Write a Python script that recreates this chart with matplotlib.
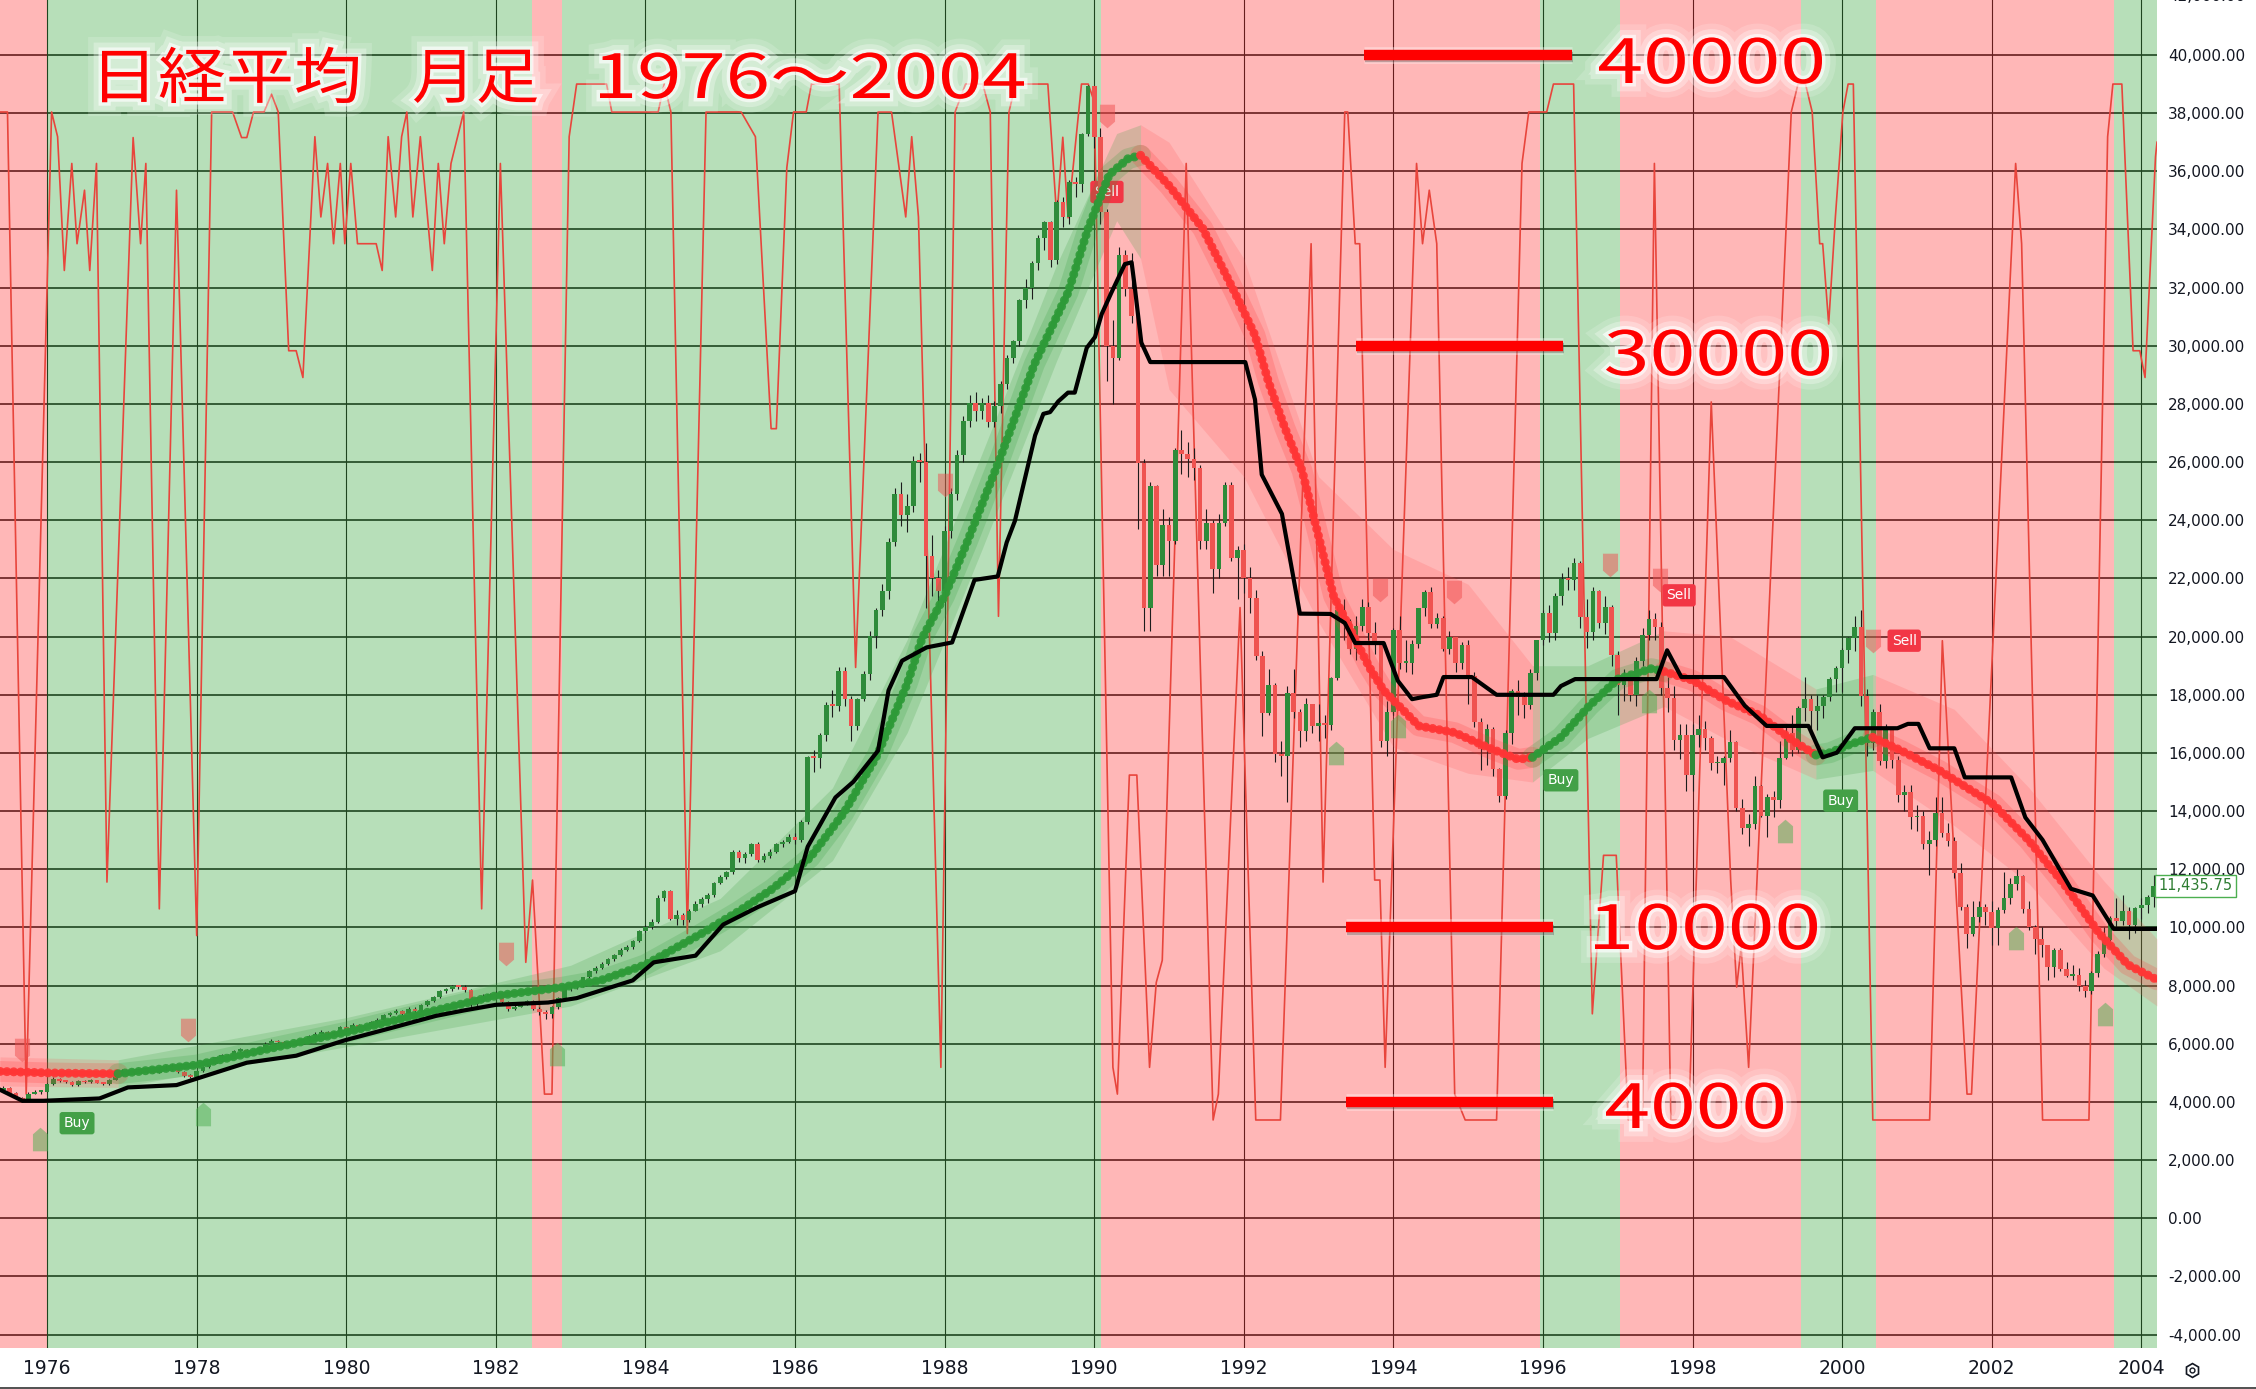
import matplotlib
matplotlib.use("Agg")
import matplotlib.pyplot as plt
import matplotlib.patheffects as pe
from matplotlib.path import Path
from matplotlib.lines import Line2D
from matplotlib.patches import PathPatch
from matplotlib.textpath import TextPath
from matplotlib.font_manager import FontProperties
from matplotlib.transforms import blended_transform_factory, Affine2D, IdentityTransform

# ---------------- data ----------------
first_bar = (1975, 5)          # first monthly bar: May 1975
first_open = 4380
closes = [
    4420, 4470, 4300, 4140, 4080, 4290, 4340, 4358,  # 1975 May-Dec
    4620, 4780, 4720, 4700, 4580, 4730, 4670, 4740, 4660, 4620, 4750, 4990,
    5080, 5000, 5060, 5030, 5080, 5010, 5120, 5180, 5140, 5040, 4890, 4866,
    5050, 5200, 5320, 5530, 5620, 5560, 5750, 5800, 5720, 5680, 5870, 6001,
    6100, 6050, 5950, 5980, 6000, 6120, 6270, 6350, 6420, 6330, 6420, 6569,
    6480, 6650, 6530, 6610, 6750, 6830, 6990, 7050, 7130, 7040, 7200, 7116,
    7340, 7480, 7600, 7810, 7870, 7970, 7950, 7850, 7360, 7520, 7650, 7681,
    7670, 7440, 7180, 7280, 7400, 7470, 7200, 7110, 7010, 7250, 7570, 8016,
    7950, 7980, 8280, 8500, 8620, 8760, 8900, 9060, 9240, 9330, 9530, 9893,
    10030, 10180, 11030, 11240, 10300, 10420, 10250, 10580, 10800, 10970, 11100, 11542,
    11720, 11900, 12600, 12380, 12520, 12880, 12320, 12450, 12590, 12880, 12950, 13113,
    13020, 13640, 15860, 15830, 16610, 17650, 17620, 18820, 17850, 16910, 17850, 18701,
    20020, 20900, 21570, 23270, 24900, 24180, 24490, 26030, 26010, 22770, 22030, 21564,
    23620, 24920, 26260, 27420, 28050, 27770, 28040, 27380, 27920, 28670, 29580, 30159,
    31580, 31990, 32840, 33710, 34270, 32950, 34950, 34430, 35640, 35550, 37270, 38916,
    37190, 34590, 29980, 29590, 33130, 31940, 31040, 25980, 20980, 25190, 22450, 23849,
    23290, 26410, 26290, 26110, 25790, 23290, 23900, 22340, 23920, 25220, 22690, 22984,
    22020, 21340, 19350, 17390, 18350, 15950, 15910, 18060, 17400, 16770, 17680, 16925,
    17020, 16950, 18590, 20920, 20550, 19590, 20380, 21030, 20110, 19700, 16410, 17417,
    20230, 19110, 19110, 19730, 20970, 21550, 20450, 20630, 19560, 19990, 19080, 19723,
    18650, 17050, 16140, 16810, 15440, 14520, 16680, 18120, 17910, 17650, 18740, 19868,
    20810, 20130, 21410, 21990, 21960, 22530, 20690, 20170, 21560, 20470, 21020, 19361,
    18330, 18560, 18000, 19150, 20070, 20600, 20330, 18230, 17890, 16460, 16630, 15259,
    16630, 16830, 16530, 15640, 15670, 15830, 16380, 14110, 13410, 13560, 14880, 13842,
    14500, 14370, 15840, 16700, 16110, 17530, 17860, 17440, 17600, 17940, 18560, 18934,
    19540, 19960, 20340, 17970, 16330, 17410, 15730, 16860, 15750, 14540, 14650, 13786,
    13840, 12880, 13000, 13930, 13260, 12970, 11860, 10710, 9770, 10370, 10700, 10543,
    9990, 10590, 11020, 11490, 11760, 10620, 10000, 9620, 9380, 8640, 9220, 8579,
    8340, 8360, 7970, 7830, 8420, 9080, 9560, 10340, 10220, 10560, 10100, 10677,
    10783, 11041, 11435.75,
]
highs = [
    4500, 4560, 4520, 4330, 4180, 4330, 4400, 4400,
    4650, 4850, 4830, 4760, 4720, 4760, 4760, 4780, 4760, 4690, 4780, 5010,
    5130, 5110, 5090, 5100, 5120, 5100, 5160, 5260, 5290, 5160, 5060, 4960,
    5080, 5230, 5350, 5560, 5660, 5650, 5790, 5860, 5830, 5760, 5900, 6050,
    6150, 6140, 6080, 6020, 6050, 6150, 6300, 6400, 6470, 6440, 6450, 6600,
    6620, 6700, 6680, 6650, 6790, 6870, 7020, 7100, 7190, 7150, 7250, 7250,
    7380, 7520, 7650, 7850, 7920, 8010, 8020, 8020, 7880, 7600, 7700, 7740,
    7800, 7700, 7460, 7350, 7450, 7520, 7490, 7260, 7150, 7300, 7600, 8050,
    8100, 8050, 8300, 8530, 8680, 8800, 8950, 9100, 9290, 9390, 9560, 9920,
    10100, 10300, 11100, 11300, 11280, 10600, 10500, 10650, 10900, 11050, 11200, 11580,
    11800, 11950, 12650, 12650, 12600, 12900, 12950, 12550, 12700, 12900, 13000, 13200,
    13250, 13700, 15900, 16100, 16700, 17750, 18150, 18950, 18950, 17950, 17900, 18820,
    20200, 21000, 21800, 23400, 25100, 25300, 24900, 26200, 26300, 26650, 23500, 22300,
    23800, 25100, 26400, 27600, 28300, 28400, 28200, 28300, 28100, 28800, 29700, 30200,
    31600, 32300, 32900, 33800, 34300, 34300, 35000, 35100, 35700, 35800, 37300, 38957,
    38950, 37500, 34700, 30900, 33400, 33300, 33200, 31100, 26100, 25300, 25200, 24400,
    24100, 26500, 27100, 26700, 26500, 25900, 24400, 24000, 24200, 25300, 25300, 23100,
    23200, 22400, 21600, 19500, 18900, 18400, 16400, 18300, 18900, 17500, 17900, 17700,
    17700, 17300, 18600, 21200, 21300, 20600, 20700, 21300, 21200, 20500, 19800, 17800,
    20300, 20700, 19900, 19900, 21000, 21600, 21700, 20800, 20700, 20200, 20000, 19800,
    19900, 18800, 17200, 17000, 16900, 15500, 16800, 18200, 18500, 18100, 18900, 19900,
    20900, 21100, 21500, 22200, 22400, 22700, 22600, 21300, 21700, 21600, 21400, 21100,
    19500, 18900, 18700, 19300, 20300, 20900, 20800, 20500, 18600, 18300, 17000, 17000,
    17000, 17300, 17100, 16600, 15900, 15900, 16800, 16400, 14400, 13900, 15200, 14900,
    14600, 14700, 16400, 17000, 17300, 17600, 18600, 18000, 18000, 18000, 18600, 19000,
    19600, 20000, 20700, 20900, 18200, 17500, 17700, 17000, 16900, 15900, 14900, 14900,
    14200, 14000, 13300, 14500, 14500, 13600, 13100, 12200, 10800, 10900, 10900, 10800,
    10900, 10700, 11900, 11700, 12000, 11800, 10900, 10100, 10000, 9400, 9300, 9300,
    8800, 8700, 8600, 8200, 8500, 9200, 10000, 10400, 11000, 11100, 10700, 10700,
    11000, 11100, 11800,
]
lows = [
    4300, 4380, 4260, 4100, 3990, 4050, 4270, 4290,
    4340, 4590, 4680, 4660, 4550, 4560, 4640, 4650, 4640, 4580, 4600, 4740,
    4960, 4970, 4960, 5000, 5000, 4990, 4990, 5100, 5100, 5010, 4860, 4810,
    4850, 5020, 5180, 5300, 5500, 5530, 5540, 5710, 5700, 5630, 5660, 5850,
    5980, 6020, 5930, 5900, 5950, 5980, 6090, 6240, 6320, 6300, 6300, 6400,
    6420, 6450, 6480, 6510, 6590, 6730, 6800, 6960, 7020, 7000, 7010, 7060,
    7090, 7300, 7440, 7580, 7760, 7830, 7900, 7780, 7200, 7300, 7480, 7600,
    7550, 7400, 7120, 7150, 7250, 7350, 7160, 6980, 6850, 6900, 7200, 7550,
    7800, 7900, 7950, 8250, 8450, 8570, 8720, 8850, 9020, 9180, 9250, 9500,
    9850, 9950, 10150, 10900, 10250, 10100, 10100, 10200, 10550, 10700, 10850, 11050,
    11500, 11650, 11850, 12250, 12200, 12450, 12250, 12250, 12400, 12550, 12750, 12900,
    12880, 12950, 13550, 15350, 15500, 16400, 17250, 17450, 17600, 16400, 16800, 17800,
    18500, 19600, 20700, 21300, 23100, 23800, 23600, 24300, 25300, 21000, 21400, 21000,
    21200, 23400, 24700, 26000, 27200, 27400, 27500, 27200, 27200, 27700, 28500, 29400,
    30000, 31300, 31600, 32600, 33300, 32700, 32800, 34100, 34200, 35100, 35300, 37200,
    36800, 34200, 28800, 28000, 29500, 31700, 30800, 23700, 20200, 20200, 22100, 22100,
    22100, 23200, 25600, 25500, 25400, 23000, 23000, 21500, 22000, 23800, 22600, 21300,
    21500, 20800, 19200, 16600, 17300, 15700, 15200, 14300, 17200, 16200, 16400, 16700,
    16400, 16500, 16800, 18500, 19900, 19400, 19200, 20200, 19900, 19400, 16200, 15900,
    17300, 18900, 18800, 18700, 19600, 20700, 20300, 20300, 19500, 19400, 18800, 18900,
    17700, 16900, 15400, 15600, 15200, 14300, 14400, 16300, 17300, 17200, 17500, 18500,
    19700, 19800, 19900, 21100, 21600, 21600, 20300, 19600, 19900, 20300, 20100, 19000,
    17300, 17800, 17800, 17600, 19000, 19900, 19900, 18000, 17400, 16100, 15800, 14700,
    14700, 16200, 16100, 15400, 15300, 14900, 15700, 14000, 13200, 12800, 13400, 13800,
    13100, 13800, 14100, 15800, 15900, 16000, 17100, 16800, 16800, 17200, 17800, 18100,
    18100, 19100, 19500, 17600, 15900, 16100, 15600, 15500, 15500, 14300, 14000, 13400,
    13300, 12700, 11800, 12800, 13100, 12800, 11700, 10600, 9300, 9700, 10200, 10100,
    9400, 9400, 10500, 10800, 11300, 10500, 9900, 9100, 9000, 8200, 8300, 8500,
    8300, 8200, 7800, 7600, 7700, 8300, 9000, 9300, 10000, 10100, 9600, 9800,
    10300, 10500, 10700,
]
last_price = 11435.75

green_zones = [(1976.00, 1982.48), (1982.88, 1990.09), (1995.96, 1997.03),
               (1999.45, 2000.45), (2003.63, 2004.21)]
red_zones = [(1975.37, 1976.00), (1982.48, 1982.88), (1990.09, 1995.96),
             (1997.03, 1999.45), (2000.45, 2003.63)]

# thin red oscillator drawn on the price scale
osc_points = [
    (1975.37, 38040), (1975.47, 38040), (1975.72, 4270), (1976.06, 38040),
    (1976.14, 37190), (1976.23, 32590), (1976.33, 36270), (1976.40, 33510),
    (1976.50, 35350), (1976.57, 32590), (1976.66, 36270), (1976.80, 11560),
    (1977.15, 37160), (1977.25, 33510), (1977.32, 36270), (1977.50, 10640),
    (1977.73, 35350), (1978.00, 9720), (1978.20, 38040), (1978.48, 38040),
    (1978.60, 37160), (1978.67, 37160), (1978.76, 38040), (1978.90, 38040),
    (1979.00, 38650), (1979.09, 38040), (1979.23, 29830), (1979.33, 29830),
    (1979.42, 28910), (1979.58, 37190), (1979.66, 34430), (1979.75, 36270),
    (1979.83, 33510), (1979.92, 36270), (1979.98, 33510), (1980.06, 36270),
    (1980.15, 33510), (1980.40, 33510), (1980.48, 32590), (1980.56, 37190),
    (1980.66, 34430), (1980.74, 37190), (1980.81, 38040), (1980.89, 34430),
    (1980.99, 37190), (1981.15, 32590), (1981.23, 36270), (1981.31, 33510),
    (1981.40, 36270), (1981.57, 38040), (1981.81, 10640), (1982.06, 36270),
    (1982.40, 8800), (1982.49, 11630), (1982.65, 4270), (1982.75, 4270),
    (1982.98, 37190), (1983.08, 39000), (1983.48, 39000), (1983.55, 38040),
    (1984.17, 38040), (1984.25, 39000), (1984.34, 38040), (1984.56, 9790),
    (1984.81, 38040), (1985.28, 38040), (1985.47, 37190), (1985.68, 27150),
    (1985.75, 27150), (1985.89, 36120), (1985.98, 38040), (1986.15, 38040),
    (1986.22, 39000), (1986.59, 39000), (1986.81, 18940), (1987.11, 38040),
    (1987.29, 38040), (1987.48, 34430), (1987.56, 37190), (1987.65, 34430),
    (1987.95, 5190), (1988.14, 38040), (1988.28, 39000), (1988.51, 39000),
    (1988.61, 38040), (1988.72, 20700), (1988.86, 38040), (1988.95, 39000),
    (1989.38, 39000), (1989.50, 34400), (1989.58, 37170), (1989.65, 34400),
    (1989.83, 39000), (1989.92, 39000), (1990.00, 38400), (1990.25, 5190),
    (1990.31, 4270), (1990.47, 15240), (1990.57, 15240), (1990.74, 5190),
    (1990.83, 8110), (1990.91, 8870), (1991.23, 36270), (1991.59, 3380),
    (1991.66, 4270), (1991.95, 21000), (1992.16, 3380), (1992.49, 3380),
    (1992.90, 33510), (1993.06, 11560), (1993.35, 38040), (1993.39, 38040),
    (1993.49, 33510), (1993.55, 33510), (1993.75, 11630), (1993.82, 11630),
    (1993.89, 5190), (1994.31, 36270), (1994.39, 33510), (1994.48, 35350),
    (1994.58, 33510), (1994.82, 4270), (1994.96, 3380), (1995.38, 3380),
    (1995.72, 36270), (1995.81, 38040), (1996.05, 38040), (1996.14, 39000),
    (1996.41, 39000), (1996.66, 7030), (1996.81, 12480), (1996.98, 12480),
    (1997.14, 3380), (1997.33, 3380), (1997.49, 36270), (1997.71, 3380),
    (1997.95, 3380), (1998.25, 28070), (1998.51, 11630), (1998.59, 7950),
    (1998.65, 9330), (1998.75, 5190), (1999.32, 38040), (1999.41, 39000),
    (1999.51, 39000), (1999.60, 38040), (1999.70, 33510), (1999.74, 33510),
    (1999.82, 30750), (1999.91, 34430), (2000.01, 38040), (2000.08, 39000),
    (2000.15, 39000), (2000.41, 3380), (2001.17, 3380), (2001.34, 19860),
    (2001.67, 4270), (2001.73, 4270), (2002.32, 36270), (2002.40, 33510),
    (2002.68, 3380), (2003.30, 3380), (2003.55, 37190), (2003.62, 39000),
    (2003.74, 39000), (2003.89, 29830), (2003.98, 29830), (2004.05, 28910),
    (2004.19, 36500), (2004.21, 37000),
]

# black trailing line
stop_points = [
    (1975.37, 4420), (1975.67, 4040), (1975.95, 4040), (1976.70, 4120),
    (1977.08, 4500), (1977.73, 4580), (1978.01, 4810), (1978.67, 5350),
    (1979.33, 5590), (1979.98, 6120), (1980.64, 6570), (1981.20, 6960),
    (1981.58, 7150), (1982.00, 7340), (1982.70, 7420), (1983.08, 7570),
    (1983.83, 8180), (1984.11, 8800), (1984.67, 9030), (1985.04, 10100),
    (1985.51, 10710), (1986.00, 11250), (1986.17, 12780), (1986.54, 14470),
    (1986.78, 15010), (1987.11, 16080), (1987.25, 18150), (1987.43, 19170),
    (1987.76, 19630), (1988.10, 19800), (1988.40, 21950), (1988.71, 22070),
    (1988.83, 23240), (1988.94, 23980), (1989.12, 25940), (1989.21, 26920),
    (1989.32, 27660), (1989.41, 27720), (1989.52, 28090), (1989.65, 28390),
    (1989.74, 28390), (1989.90, 29930), (1990.01, 30300), (1990.10, 31090),
    (1990.23, 31830), (1990.41, 32810), (1990.50, 32870), (1990.54, 32070),
    (1990.63, 30110), (1990.75, 29440), (1992.02, 29440), (1992.15, 28150),
    (1992.24, 25570), (1992.51, 24220), (1992.75, 20790), (1993.16, 20780),
    (1993.35, 20470), (1993.49, 19780), (1993.87, 19780), (1994.06, 18480),
    (1994.25, 17850), (1994.39, 17920), (1994.58, 18000), (1994.67, 18610),
    (1995.05, 18610), (1995.38, 18000), (1996.14, 18000), (1996.24, 18300),
    (1996.43, 18540), (1997.52, 18540), (1997.66, 19530), (1997.85, 18610),
    (1998.42, 18610), (1998.70, 17620), (1998.99, 16930), (1999.55, 16930),
    (1999.74, 15850), (1999.93, 16010), (2000.17, 16850), (2000.74, 16850),
    (2000.88, 17000), (2001.02, 17000), (2001.17, 16160), (2001.50, 16160),
    (2001.64, 15160), (2002.26, 15160), (2002.45, 13780), (2002.68, 13010),
    (2003.06, 11330), (2003.35, 11100), (2003.63, 9950), (2004.21, 9950),
]

# thick trend line: (year, value, side of the segment that starts there)
trail_points = [
    (1975.37, 5050, "dn"), (1976.00, 5000, "dn"), (1976.50, 4980, "dn"),
    (1976.95, 4970, "up"), (1978.00, 5270, "up"), (1979.00, 5850, "up"),
    (1980.00, 6400, "up"), (1981.00, 7030, "up"), (1982.00, 7650, "up"),
    (1982.90, 7950, "up"), (1983.40, 8180, "up"), (1984.00, 8720, "up"),
    (1984.75, 9790, "up"), (1985.25, 10560, "up"), (1985.70, 11330, "up"),
    (1986.20, 12400, "up"), (1986.65, 13930, "up"), (1987.10, 15930, "up"),
    (1987.50, 18380, "up"), (1987.70, 19950, "up"), (1988.00, 21400, "up"),
    (1988.30, 23240, "up"), (1988.75, 26190, "up"), (1989.20, 29370, "up"),
    (1989.65, 31830, "up"), (1989.92, 34040, "up"), (1990.20, 35880, "up"),
    (1990.45, 36430, "up"), (1990.62, 36550, "dn"), (1991.00, 35510, "dn"),
    (1991.45, 34040, "dn"), (1991.88, 31830, "dn"), (1992.15, 30360, "dn"),
    (1992.33, 28760, "dn"), (1992.55, 27170, "dn"), (1992.78, 25700, "dn"),
    (1993.20, 21400, "dn"), (1993.68, 18940, "dn"), (1993.87, 18150, "dn"),
    (1994.34, 16930, "dn"), (1994.82, 16700, "dn"), (1995.29, 16160, "dn"),
    (1995.67, 15780, "dn"), (1995.86, 15850, "up"), (1996.24, 16540, "up"),
    (1996.62, 17620, "up"), (1997.00, 18540, "up"), (1997.45, 18900, "up"),
    (1997.62, 18800, "dn"), (1998.00, 18500, "dn"), (1998.45, 17800, "dn"),
    (1998.89, 17300, "dn"), (1999.36, 16390, "dn"), (1999.65, 15930, "up"),
    (1999.84, 16010, "up"), (2000.12, 16310, "up"), (2000.41, 16540, "dn"),
    (2000.79, 16080, "dn"), (2001.30, 15400, "dn"), (2002.02, 14240, "dn"),
    (2002.49, 13010, "dn"), (2002.97, 11480, "dn"), (2003.44, 9790, "dn"),
    (2003.82, 8720, "dn"), (2004.21, 8200, "dn"),
]

# translucent cloud round the trend line: (year, low, high, side)
cloud_points = [
    (1975.37, 4550, 5550, "dn"), (1976.95, 4500, 5450, "up"),
    (1980.00, 5900, 6900, "up"), (1983.00, 7300, 8700, "up"),
    (1985.00, 9200, 11000, "up"), (1986.50, 12300, 14800, "up"),
    (1987.50, 16700, 19900, "up"), (1988.50, 23000, 26300, "up"),
    (1989.50, 29500, 32800, "up"), (1990.30, 34300, 37300, "up"),
    (1990.62, 33000, 37600, "dn"), (1991.00, 28500, 37000, "dn"),
    (1992.00, 25500, 33000, "dn"), (1993.00, 20500, 25500, "dn"),
    (1994.00, 16200, 23000, "dn"), (1995.00, 15300, 21800, "dn"),
    (1995.86, 15000, 19000, "up"), (1996.60, 16500, 19000, "up"),
    (1997.62, 17600, 20200, "dn"), (1998.50, 16400, 20000, "dn"),
    (1999.65, 15100, 18200, "up"), (2000.41, 15400, 18700, "dn"),
    (2001.50, 13500, 17500, "dn"), (2002.50, 11500, 14800, "dn"),
    (2003.50, 8600, 11600, "dn"), (2004.21, 7300, 9600, "dn"),
]

buy_labels = [(1976.40, 3270), (1996.24, 15060), (1999.98, 14360)]
sell_labels = [(1990.17, 35290), (1997.82, 21420), (2000.83, 19860)]
up_arrows = [(1975.91, 2740), (1978.08, 3580), (1982.82, 5650), (1993.23, 16000),
             (1994.06, 16930), (1997.42, 17770), (1999.24, 13320), (2002.32, 9640),
             (2003.51, 7030)]
down_arrows = [(1975.67, 5800), (1977.89, 6490), (1982.14, 9100), (1988.00, 25230),
               (1990.17, 37900), (1993.82, 21620), (1994.81, 21550), (1996.90, 22470),
               (1997.56, 21930), (2000.41, 19860)]

title_parts = ["日経平均", "月足", "1976～2004"]
levels = [40000, 30000, 10000, 4000]
level_texts = ["40000", "30000", "10000", "4000"]

# ---------------- figure ----------------
W, H = 2256, 1389
AX_W, AX_H = 2157, 1348
fig = plt.figure(figsize=(W / 100, H / 100), dpi=100)
ax = fig.add_axes([0, (H - AX_H) / H, AX_W / W, AX_H / H])
ax.set_xlim(1975.37, 2004.21)
ax.set_ylim(-4460, 41890)

GREEN = "#4caf50"
RED = "#ff4d4d"

# grid under translucent zone colours -> dark green / dark red lines
ax.set_axisbelow(True)
ax.set_xticks(range(1976, 2005, 2))
ax.set_yticks(range(-4000, 42000, 2000))
ax.xaxis.grid(True, color="black", lw=0.8)
ax.yaxis.grid(True, color="black", lw=1.2)
for a, b in green_zones:
    ax.axvspan(a, b, color=GREEN, alpha=0.4, lw=0, zorder=1)
for a, b in red_zones:
    ax.axvspan(a, b, color=RED, alpha=0.4, lw=0, zorder=1)

# oscillator
ot, ov = zip(*osc_points)
ax.plot(ot, ov, color="#e8453c", lw=1.2, zorder=2)


def runs(points):
    out, i, n = [], 0, len(points)
    while i < n - 1:
        side = points[i][-1]
        j = i
        while j < n - 1 and points[j][-1] == side:
            j += 1
        out.append((side, points[i:j + 1]))
        i = j
    return out


# clouds
for side, pts in runs(cloud_points):
    t = [p[0] for p in pts]
    ax.fill_between(t, [p[1] for p in pts], [p[2] for p in pts],
                    color="#43a047" if side == "up" else "#ff5252",
                    alpha=0.22 if side == "up" else 0.18, lw=0, zorder=3)

# candles
y0, m0 = first_bar
bar_t = [y0 + (m0 - 1 + i) / 12 for i in range(len(closes))]
opens = [first_open] + closes[:-1]
bottoms = [min(o, c) for o, c in zip(opens, closes)]
heights = [max(abs(c - o), 60) for o, c in zip(opens, closes)]
colors = ["#2e8b3a" if c >= o else "#ef5350" for o, c in zip(opens, closes)]
ax.vlines(bar_t, lows, highs, color="#1c1c1c", lw=0.8, zorder=4)
ax.bar(bar_t, heights, bottom=bottoms, width=0.062, color=colors, lw=0, zorder=4.1)

# thick trend line with bead-like markers
for side, pts in runs(trail_points):
    t = [p[0] for p in pts]
    v = [p[1] for p in pts]
    col = "#2e9a38" if side == "up" else "#ff3535"
    ax.plot(t, v, color=col, lw=15, alpha=0.2, solid_capstyle="round", zorder=5)
    ax.plot(t, v, color=col, lw=4, alpha=0.9, solid_capstyle="round", zorder=5.1)
    ax.plot(t, v, color=col, lw=6.5, ls=(0, (0.01, 0.75)), dash_capstyle="round",
            alpha=0.9, zorder=5.2)

# black line
st, sv = zip(*stop_points)
ax.plot(st, sv, color="black", lw=3, solid_joinstyle="round", zorder=6)

# small house-shaped signal markers
house = Path([(-0.32, -0.5), (0.32, -0.5), (0.32, 0.22), (0, 0.5), (-0.32, 0.22), (-0.32, -0.5)],
             [Path.MOVETO] + [Path.LINETO] * 4 + [Path.CLOSEPOLY])
house_dn = Path([(x, -y) for x, y in house.vertices], house.codes)
ut, uv = zip(*up_arrows)
ax.plot(ut, uv, ls="none", marker=house, ms=17, color=GREEN, alpha=0.5, mew=0, zorder=7)
dt, dv = zip(*down_arrows)
ax.plot(dt, dv, ls="none", marker=house_dn, ms=17, color="#f05050", alpha=0.5, mew=0, zorder=7)

NARROW = ["Liberation Sans Narrow", "DejaVu Sans"]
for t, v in buy_labels:
    ax.text(t, v, "Buy", ha="center", va="center", color="white", fontsize=10,
            family=NARROW, zorder=8,
            bbox=dict(boxstyle="round,pad=0.3,rounding_size=0.2", fc="#43a047", ec="none"))
for i, (t, v) in enumerate(sell_labels):
    ax.text(t, v, "Sell", ha="center", va="center", color="white", fontsize=10,
            family=NARROW, zorder=4.05 if i == 0 else 8,
            bbox=dict(boxstyle="round,pad=0.3,rounding_size=0.2", fc="#f23645", ec="none"))

# ---------------- overlay annotations (pixel layout of the screenshot) ----------------
GLOW = [pe.Stroke(linewidth=20, foreground="white", alpha=0.16),
        pe.Stroke(linewidth=12, foreground="white", alpha=0.3),
        pe.Stroke(linewidth=5, foreground="white", alpha=0.65),
        pe.Normal()]
JPF = FontProperties(family="Noto Sans CJK JP")


def overlay_text(s, left, right, baseline, em=61):
    # glyph outlines stretched to the width they occupy in the screenshot
    tp = TextPath((0, 0), s, size=em, prop=JPF)
    ext = tp.get_extents()
    tr = (Affine2D().translate(-ext.x0, 0)
          .scale((right - left) / ext.width, 1).translate(left, H - baseline))
    fig.add_artist(PathPatch(tr.transform_path(tp), fc="#ff0000", ec="none",
                             transform=IdentityTransform(), path_effects=GLOW, zorder=20))


title_box = [(102, 358), (414, 537), (600, 1024)]
for s, (a, b) in zip(title_parts, title_box):
    overlay_text(s, a, b, 98)

xfrac = blended_transform_factory(ax.transAxes, ax.transData)
bar_px = [(1364, 1572), (1356, 1563), (1346, 1553), (1346, 1553)]
text_px = [(1599, 1822, 83), (1606, 1829, 375), (1595, 1817, 949), (1606, 1783, 1128)]
for lev, txt, (a, b), (l, r, base) in zip(levels, level_texts, bar_px, text_px):
    ax.plot([a / AX_W, b / AX_W], [lev, lev], transform=xfrac, color="#ff0000", lw=7.5,
            solid_capstyle="butt", zorder=9,
            path_effects=[pe.Stroke(linewidth=12, foreground="white", alpha=0.35),
                          pe.SimpleLineShadow(offset=(1, -1.5), alpha=0.25), pe.Normal()])
    overlay_text(txt, l, r, base)

# ---------------- axes dressing ----------------
for s in ax.spines.values():
    s.set_visible(False)
ax.yaxis.tick_right()
ax.set_yticklabels([f"{v:,.2f}" for v in range(-4000, 42000, 2000)])
ax.tick_params(axis="y", length=0, pad=8, labelsize=11, labelcolor="#131722")
ax.set_xticklabels([str(y) for y in range(1976, 2005, 2)])
ax.tick_params(axis="x", length=0, pad=8, labelsize=13.5, labelcolor="#131722")
for lbl in ax.get_xticklabels():
    lbl.set_family(NARROW)
ax.text(1.0051, 42000, "42,000.00", transform=xfrac, ha="left", va="center",
        fontsize=11, color="#131722", clip_on=False)
ax.text(1.0008, last_price, "11,435.75", transform=xfrac, ha="left", va="center",
        fontsize=10.5, color="#2e7d32", clip_on=False, zorder=10,
        bbox=dict(boxstyle="square,pad=0.25", fc="white", ec="#4caf50", lw=1))

fig.add_artist(Line2D([0, 1], [1.5 / H, 1.5 / H], color="#333333", lw=1.2))
fig.add_artist(Line2D([2192 / W], [1 - 1370 / H], marker="h", ms=10, mfc="none",
                      mec="#131722", mew=1.2, ls="none"))
fig.add_artist(Line2D([2192 / W], [1 - 1370 / H], marker="o", ms=3.5, mfc="none",
                      mec="#131722", mew=1.0, ls="none"))

fig.savefig("out.png", dpi=100)
